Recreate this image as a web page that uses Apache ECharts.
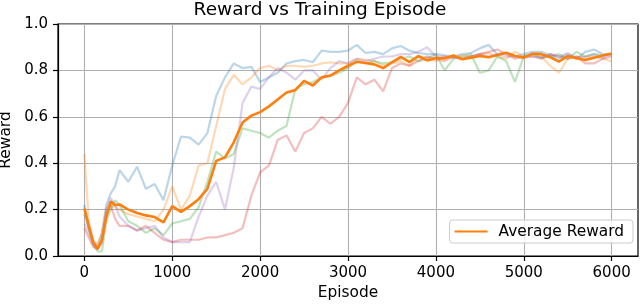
<!DOCTYPE html>
<html>
<head>
<meta charset="utf-8">
<style>
html,body{margin:0;padding:0;background:#fff;}
#chart{width:640px;height:304px;}
</style>
<script src="https://cdn.jsdelivr.net/npm/echarts/dist/echarts.min.js"></script>
</head>
<body>
<div id="chart"></div>
<script>
const episodes = [0,50,100,150,200,250,300,350,400,
  500,600,700,800,900,
  1000,1100,1200,1300,1400,1500,1600,1700,1800,1900,
  2000,2100,2200,2300,2400,2500,2600,2700,2800,2900,
  3000,3100,3200,3300,3400,3500,3600,3700,3800,3900,
  4000,4100,4200,4300,4400,4500,4600,4700,4800,4900,
  5000,5100,5200,5300,5400,5500,5600,5700,5800,5900,
  6000];

const run1 = [0.22,0.12,0.06,0.04,0.1,0.22,0.27,0.3,0.37,
  0.32,0.385,0.29,0.31,0.24,
  0.39,0.515,0.51,0.48,0.53,0.69,0.77,0.83,0.81,0.815,
  0.75,0.77,0.79,0.83,0.84,0.845,0.835,0.885,0.88,0.88,
  0.885,0.91,0.875,0.88,0.87,0.895,0.905,0.885,0.875,0.87,
  0.87,0.865,0.86,0.87,0.875,0.895,0.91,0.87,0.875,0.86,
  0.87,0.88,0.88,0.865,0.85,0.87,0.85,0.88,0.89,0.87,
  0.87];

const run2 = [0.44,0.15,0.07,0.05,0.1,0.2,0.22,0.21,0.2,
  0.18,0.17,0.16,0.15,0.2,
  0.3,0.2,0.26,0.39,0.4,0.56,0.72,0.78,0.74,0.77,
  0.81,0.82,0.8,0.82,0.82,0.815,0.82,0.83,0.835,0.83,
  0.83,0.85,0.845,0.84,0.82,0.83,0.84,0.82,0.86,0.855,
  0.84,0.86,0.855,0.865,0.86,0.87,0.875,0.86,0.85,0.88,
  0.86,0.87,0.86,0.82,0.79,0.85,0.86,0.855,0.86,0.85,
  0.84];

const run3 = [0.18,0.12,0.05,0.02,0.02,0.15,0.2,0.24,0.22,
  0.15,0.13,0.1,0.12,0.09,
  0.14,0.15,0.16,0.21,0.32,0.45,0.42,0.44,0.55,0.54,
  0.53,0.51,0.54,0.56,0.72,0.74,0.75,0.77,0.775,0.79,
  0.81,0.84,0.83,0.84,0.83,0.835,0.85,0.86,0.84,0.85,
  0.87,0.8,0.85,0.86,0.87,0.79,0.8,0.86,0.84,0.75,
  0.86,0.87,0.855,0.86,0.87,0.85,0.88,0.86,0.87,0.865,
  0.87];

const run4 = [0.12,0.08,0.04,0.03,0.06,0.18,0.22,0.16,0.13,
  0.13,0.11,0.13,0.1,0.07,
  0.06,0.07,0.07,0.07,0.08,0.08,0.09,0.1,0.12,0.26,
  0.36,0.39,0.5,0.52,0.45,0.53,0.55,0.6,0.57,0.6,
  0.66,0.77,0.74,0.76,0.71,0.81,0.83,0.82,0.84,0.86,
  0.85,0.84,0.86,0.85,0.86,0.87,0.88,0.89,0.87,0.85,
  0.86,0.86,0.85,0.87,0.86,0.85,0.86,0.83,0.83,0.85,
  0.86];

const run5 = [0.14,0.1,0.05,0.03,0.06,0.2,0.25,0.22,0.17,
  0.13,0.11,0.12,0.13,0.08,
  0.06,0.06,0.06,0.17,0.26,0.32,0.2,0.38,0.66,0.73,
  0.72,0.77,0.81,0.79,0.76,0.8,0.8,0.76,0.81,0.84,
  0.83,0.85,0.84,0.85,0.86,0.86,0.87,0.87,0.88,0.9,
  0.86,0.86,0.855,0.85,0.86,0.87,0.86,0.87,0.86,0.86,
  0.855,0.86,0.855,0.87,0.86,0.875,0.855,0.86,0.87,0.855,
  0.87];

const average = [0.205,0.13,0.06,0.03,0.07,0.17,0.235,0.22,0.222,
  0.2,0.185,0.175,0.168,0.145,
  0.215,0.19,0.215,0.245,0.29,0.41,0.425,0.49,0.575,0.605,
  0.62,0.645,0.675,0.705,0.715,0.755,0.735,0.77,0.778,0.8,
  0.82,0.837,0.832,0.826,0.81,0.835,0.858,0.836,0.862,0.843,
  0.853,0.852,0.864,0.848,0.855,0.862,0.857,0.866,0.876,0.862,
  0.855,0.872,0.87,0.857,0.838,0.862,0.852,0.845,0.855,0.864,
  0.873];

const xTicks = [0,1000,2000,3000,4000,5000,6000];
const runColors = ['#1f77b4','#ff7f0e','#2ca02c','#d62728','#9467bd'];
const runs = [run1, run2, run3, run4, run5];

const FONT = 'DejaVu Sans';
const pairs = vals => episodes.map((e, i) => [e, vals[i]]);

const series = runs.map((r, k) => ({
  name: 'Run ' + (k + 1),
  type: 'line',
  data: pairs(r),
  showSymbol: false,
  silent: true,
  lineStyle: { color: runColors[k], width: 2.2, opacity: 0.3 },
  itemStyle: { color: runColors[k] },
  z: 2
}));
series.push({
  name: 'Average Reward',
  type: 'line',
  data: pairs(average),
  showSymbol: false,
  lineStyle: { color: '#ff7f0e', width: 2.6 },
  itemStyle: { color: '#ff7f0e' },
  z: 5
});

const chart = echarts.init(document.getElementById('chart'), null, { renderer: 'canvas' });
chart.setOption({
  animation: false,
  backgroundColor: '#ffffff',
  textStyle: { fontFamily: FONT },
  title: {
    text: 'Reward vs Training Episode',
    left: 'center',
    top: 0,
    padding: [1, 0, 0, 0],
    textStyle: { fontFamily: FONT, fontSize: 18.5, fontWeight: 'normal', color: '#000' }
  },
  legend: {
    data: ['Average Reward'],
    right: 7,
    top: 220,
    orient: 'vertical',
    itemWidth: 33,
    itemHeight: 14,
    padding: [4, 9, 4, 5],
    backgroundColor: 'rgba(255,255,255,0.8)',
    borderColor: '#cccccc',
    borderWidth: 1,
    borderRadius: 3,
    icon: 'path://M0,6 L33,6 L33,8 L0,8 Z',
    textStyle: { fontFamily: FONT, fontSize: 15.4, color: '#000', padding: [0, 0, 0, 6] }
  },
  grid: {
    left: 58, right: 2, top: 24, bottom: 48,
    show: true,
    borderColor: '#000',
    borderWidth: 1.2,
    containLabel: false,
    outerBoundsMode: 'none'
  },
  xAxis: {
    type: 'value',
    min: -300,
    max: 6300,
    name: 'Episode',
    nameLocation: 'middle',
    nameGap: 27,
    nameTextStyle: { fontFamily: FONT, fontSize: 15.4, color: '#000' },
    axisLine: { show: true, onZero: false, lineStyle: { color: '#000', width: 1.2 } },
    axisTick: { show: true, length: 5, customValues: xTicks, lineStyle: { color: '#000', width: 1.2 } },
    axisLabel: { customValues: xTicks, margin: 10, fontFamily: FONT, fontSize: 15, color: '#000', formatter: v => String(v) },
    splitLine: { show: true, lineStyle: { color: '#b0b0b0', width: 1.1 } }
  },
  yAxis: {
    type: 'value',
    min: 0,
    max: 1,
    interval: 0.2,
    name: 'Reward',
    nameLocation: 'middle',
    nameGap: 39,
    nameTextStyle: { fontFamily: FONT, fontSize: 15.4, color: '#000' },
    axisLine: { show: true, onZero: false, lineStyle: { color: '#000', width: 1.2 } },
    axisTick: { show: true, length: 5, lineStyle: { color: '#000', width: 1.2 } },
    axisLabel: { margin: 10, fontFamily: FONT, fontSize: 15, color: '#000', formatter: v => v.toFixed(1) },
    splitLine: { show: true, lineStyle: { color: '#b0b0b0', width: 1.1 } }
  },
  series: series
});
</script>
</body>
</html>
